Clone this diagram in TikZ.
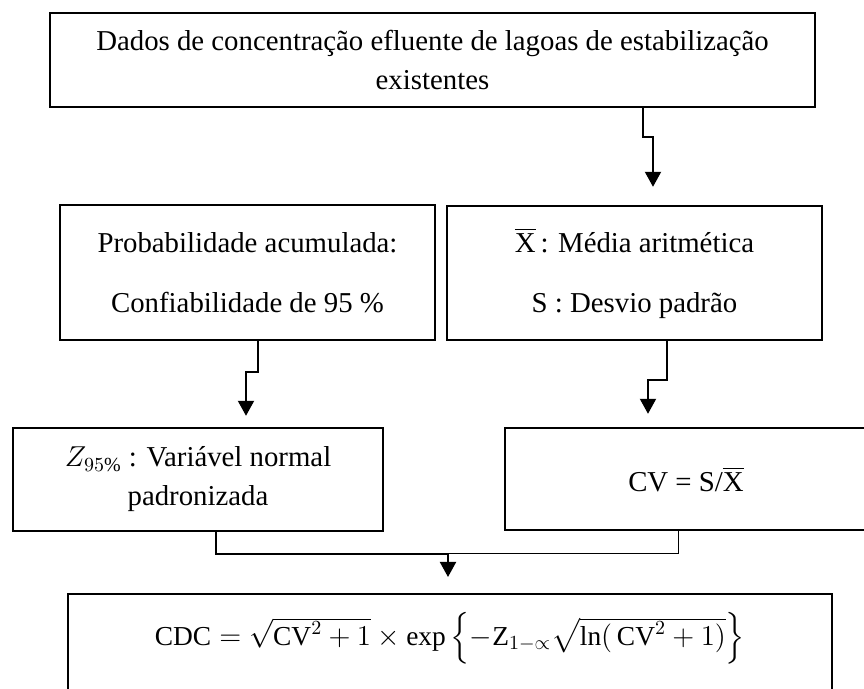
\documentclass[tikz,border=0pt]{standalone}
\usepackage{amsmath}
\usepackage{fontspec}
\setmainfont{Liberation Serif}
\usetikzlibrary{arrows.meta}

\tikzset{
    box/.style={draw, line width=1.2pt, align=center, inner sep=0pt,
        font=\fontsize{14.4}{19.5}\selectfont},
    flow/.style={line width=1pt, -{Triangle[width=8pt,length=7.5pt]}},
    link/.style={line width=0.5pt}
}

\begin{document}
\begin{tikzpicture}[x=0.5pt,y=0.5pt]
        \useasboundingbox (0,0) rectangle (864,689);
        \clip (0,0) rectangle (864,689);
        % caixas
        \node[box, minimum width=382.5pt, minimum height=47pt] (dados) at (432.5,629)
            {Dados de concentração efluente de lagoas de estabilização\\existentes};
        \node[box, minimum width=187.5pt, minimum height=67.5pt] (prob) at (247.5,416.5)
            {Probabilidade acumulada:\\[10.5pt]Confiabilidade de 95 \%};
        \node[box, minimum width=187.5pt, minimum height=67pt] (stats) at (634.5,416)
            {$\overline{\hbox{X}}$\,: Média aritmética\\[10.5pt]S : Desvio padrão};
        \node[box, minimum width=185pt, minimum height=51.5pt] (zvar) at (198,209.5)
            {$Z_{95\%}$ : Variável normal\\padronizada};
        \node[box, minimum width=181pt, minimum height=51pt] (cv) at (686,210)
            {CV = S/$\overline{\hbox{X}}$};
        \node[box, anchor=north, minimum width=382pt, inner ysep=9pt, text depth=40pt,
            font=\fontsize{13.7}{16}\selectfont] (cdc) at (450,96)
            {$\mathrm{CDC} = \sqrt{\mathrm{CV}^2+1}\times\exp\left\{-\mathrm{Z}_{1-\propto}\sqrt{\ln(\,\mathrm{CV}^2+1)}\right\}$};
        \coordinate (merge) at (448,135);
        % ligacoes
        \draw[flow, shorten >=9pt] ([xshift=105.25pt]dados.south) -- ++(0,-29) -| ([xshift=9.25pt]stats.north);
        \draw[flow, shorten >=5.5pt] ([xshift=5.25pt]prob.south) -- ++(0,-31) -| ([xshift=24pt]zvar.north);
        \draw[flow, shorten >=6.5pt] ([xshift=16.25pt]stats.south) -- ++(0,-39) -| ([xshift=-19pt]cv.north);
        \draw[flow, shorten >=8pt] ([xshift=9pt]zvar.south) |- (merge) -- ([xshift=-1pt]cdc.north);
        \draw[link] ([xshift=-4pt]cv.south) |- (merge);
    \end{tikzpicture}
\end{document}
